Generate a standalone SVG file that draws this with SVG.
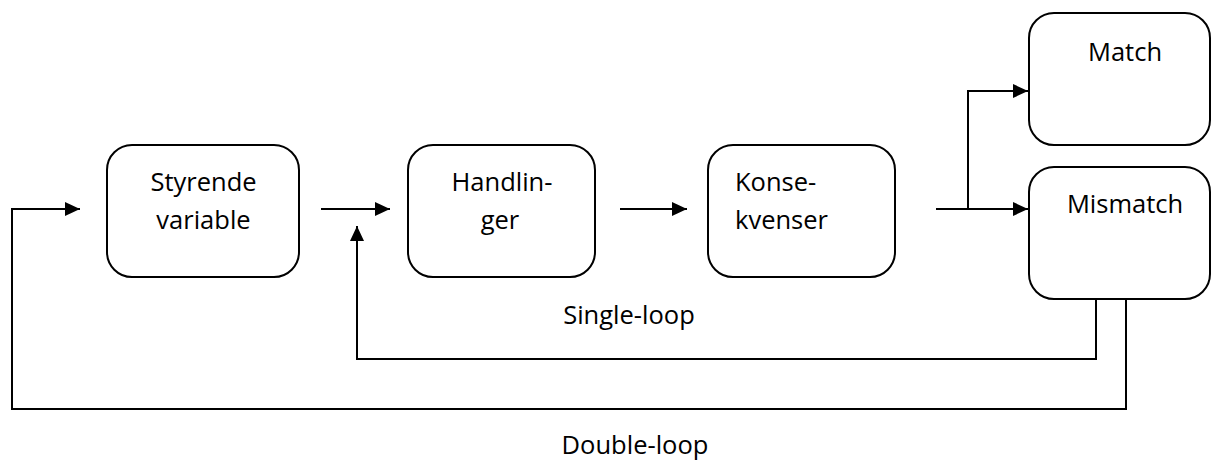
<svg xmlns="http://www.w3.org/2000/svg" width="1211" height="461" viewBox="0 0 1211 461">
<style>
.box{fill:#fff;stroke:#000;stroke-width:2}
.ln{fill:none;stroke:#000;stroke-width:2}
text{font-family:"Open Sans","Liberation Sans",sans-serif;font-size:25.5px;fill:#000}
.c{text-anchor:middle}
</style>
<defs>
<marker id="ah" markerUnits="userSpaceOnUse" markerWidth="15" markerHeight="14" refX="15" refY="7" orient="auto">
<path d="M0,0 L15,7 L0,14 z" fill="#000"/>
</marker>
</defs>
<rect width="1211" height="461" fill="#fff"/>
<g id="connectors">
<path class="ln" d="M1126,299 V409 H12 V209 H80" marker-end="url(#ah)"/>
<path class="ln" d="M321,209 H390" marker-end="url(#ah)"/>
<path class="ln" d="M1096,299 V359 H357 V226" marker-end="url(#ah)"/>
<path class="ln" d="M620,209 H687" marker-end="url(#ah)"/>
<path class="ln" d="M936,209 H1028" marker-end="url(#ah)"/>
<path class="ln" d="M968,209 V91 H1028" marker-end="url(#ah)"/>
</g>
<g id="styrende">
<rect class="box" x="107" y="145" width="192" height="132" rx="25"/>
<text class="c" x="203.5" y="191">Styrende</text>
<text class="c" x="203.5" y="229">variable</text>
</g>
<g id="handlinger">
<rect class="box" x="408" y="145" width="187" height="132" rx="25"/>
<text class="c" x="502" y="191">Handlin-</text>
<text class="c" x="500" y="229">ger</text>
</g>
<g id="konsekvenser">
<rect class="box" x="708" y="145" width="187" height="132" rx="25"/>
<text x="735" y="191">Konse-</text>
<text x="735" y="229">kvenser</text>
</g>
<g id="match">
<rect class="box" x="1029" y="13" width="181" height="132" rx="25"/>
<text class="c" x="1125" y="61">Match</text>
</g>
<g id="mismatch">
<rect class="box" x="1029" y="167" width="181" height="132" rx="25"/>
<text class="c" x="1125" y="213">Mismatch</text>
</g>
<g id="labels">
<text class="c" x="629" y="324">Single-loop</text>
<text class="c" x="635" y="454">Double-loop</text>
</g>
</svg>
